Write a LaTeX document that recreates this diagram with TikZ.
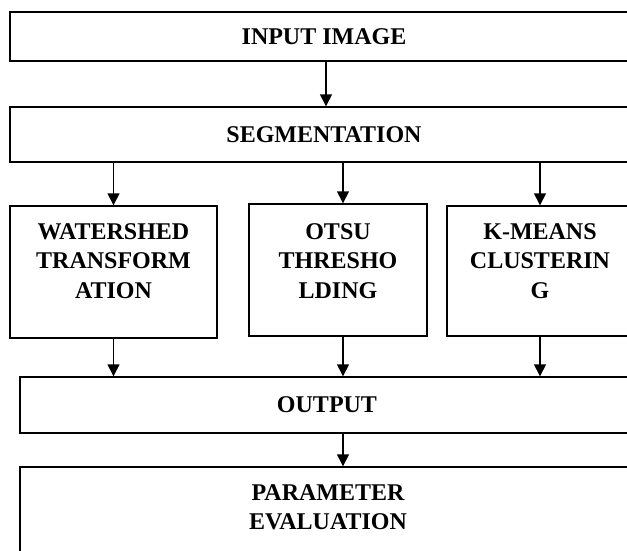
\documentclass[tikz,border=0pt]{standalone}
\usepackage{fontspec}
\setmainfont{Liberation Serif}
\usetikzlibrary{arrows.meta,calc}
\begin{document}
\begin{tikzpicture}[x=1pt,y=-1pt,
  box/.style={draw=black, line width=1.4pt, rectangle, inner sep=0pt,
    font=\fontsize{24}{29.5}\selectfont\bfseries, align=center},
  txt/.style={font=\fontsize{24}{29.5}\selectfont\bfseries, align=center, inner sep=0pt},
  arr/.style={line width=1.4pt, -{Triangle[length=12pt,width=12pt]}}]
\useasboundingbox (0,0) rectangle (627,550);
\clip (0,0) rectangle (627,550);
\fill[white] (0,0) rectangle (627,550);
% boxes
\node[box, minimum width=628pt, minimum height=49pt] (inp) at (324,36.5) {INPUT IMAGE};
\node[box, minimum width=628pt, minimum height=55pt] (seg) at (324,134.5) {SEGMENTATION};
\node[box, minimum width=207pt, minimum height=132pt] (ws) at (113.5,272) {};
\node[box, minimum width=178pt, minimum height=132pt] (ot) at (338,270) {};
\node[box, minimum width=186pt, minimum height=130pt] (km) at (540,271) {};
\node[box, minimum width=614pt, minimum height=56pt] (out) at (327,405) {OUTPUT};
\node[box, minimum width=614pt, minimum height=113pt] (par) at (327,523.5) {};
% multi-line labels
\node[txt] (wst) at (113.5,261) {WATERSHED\\TRANSFORM\\ATION};
\node[txt] (ott) at (338,261) {OTSU\\THRESHO\\LDING};
\node[txt] (kmt) at (540,261) {K-MEANS\\CLUSTERIN\\G};
\node[txt] (part) at (328,507) {PARAMETER\\EVALUATION};
% connectors
\draw[arr] ([xshift=2pt]inp.south) -- ([xshift=2pt]seg.north);
\draw[arr] (ws.north |- seg.south) -- (ws.north);
\draw[arr] ([xshift=5pt]ot.north |- seg.south) -- ([xshift=5pt]ot.north);
\draw[arr] (km.north |- seg.south) -- (km.north);
\draw[arr] (ws.south) -- (ws.south |- out.north);
\draw[arr] ([xshift=5pt]ot.south) -- ([xshift=5pt]ot.south |- out.north);
\draw[arr] (km.south) -- (km.south |- out.north);
\draw[arr] ([xshift=5pt]ot.south |- out.south) -- ([xshift=5pt]ot.south |- par.north);
\end{tikzpicture}
\end{document}
